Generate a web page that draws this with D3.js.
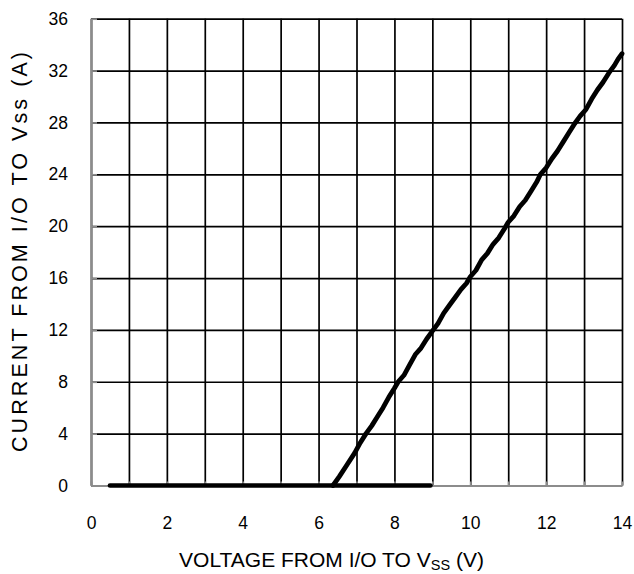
<!DOCTYPE html>
<html>
<head>
<meta charset="utf-8">
<script src="https://cdn.jsdelivr.net/npm/d3@7"></script>
<style>
  html, body { margin: 0; padding: 0; background: #fff; }
  svg { display: block; }
  text { font-family: "Liberation Sans", Arial, Helvetica, sans-serif; fill: #000; }
</style>
</head>
<body>
<svg id="chart" width="634" height="574"></svg>
<script>
// Axis ranges and tick labels
const xTickLabels = [0, 2, 4, 6, 8, 10, 12, 14];
const xGridValues = [0, 1, 2, 3, 4, 5, 6, 7, 8, 9, 10, 11, 12, 13, 14];
const yTickLabels = [0, 4, 8, 12, 16, 20, 24, 28, 32, 36];

// Off-state leakage: current stays at zero up to ~9 V
const offVoltage = [0.5, 8.95];
const offCurrent = [0, 0];

// Clamp conduction: current rises once the I/O exceeds ~6.4 V
const onVoltage = [6.38, 6.55, 6.75, 6.95, 7.10, 7.25, 7.40, 7.55, 7.70, 7.85,
  8.00, 8.10, 8.25, 8.40, 8.55, 8.70, 8.85, 9.00, 9.15, 9.30,
  9.45, 9.60, 9.75, 9.90, 10.00, 10.15, 10.30, 10.45, 10.60, 10.75,
  10.90, 11.00, 11.15, 11.30, 11.45, 11.60, 11.75, 11.85, 12.00, 12.15,
  12.30, 12.45, 12.60, 12.75, 12.90, 13.05, 13.20, 13.35, 13.50, 13.65,
  13.80, 13.90, 14.00];
const onCurrent = [0.0, 0.7, 1.6, 2.5, 3.3, 4.0, 4.6, 5.3, 6.0, 6.8,
  7.5, 8.0, 8.5, 9.3, 10.1, 10.6, 11.3, 11.9, 12.5, 13.3,
  13.9, 14.5, 15.1, 15.6, 16.1, 16.6, 17.4, 17.9, 18.6, 19.1,
  19.8, 20.3, 20.8, 21.5, 22.0, 22.7, 23.4, 24.0, 24.5, 25.2,
  25.8, 26.5, 27.2, 27.9, 28.5, 29.0, 29.8, 30.5, 31.1, 31.8,
  32.4, 32.9, 33.3];

const svg = d3.select("#chart");
const plotLeft = 91, plotRight = 622, plotTop = 18.7, plotBottom = 485.5;

const x = d3.scaleLinear().domain([0, 14]).range([plotLeft, plotRight]);
const y = d3.scaleLinear().domain([0, 36]).range([plotBottom, plotTop]);

// Black grid: vertical lines every volt, horizontal every 4 A
svg.append("g")
  .attr("transform", `translate(0,${plotBottom})`)
  .call(d3.axisBottom(x).tickValues(xGridValues).tickSize(-(plotBottom - plotTop)).tickFormat(""))
  .call(g => g.select(".domain").remove())
  .call(g => g.selectAll(".tick line").attr("stroke", "#000").attr("stroke-width", 1.7));

svg.append("g")
  .attr("transform", `translate(${plotLeft},0)`)
  .call(d3.axisLeft(y).tickValues(yTickLabels).tickSize(-(plotRight - plotLeft)).tickFormat(""))
  .call(g => g.select(".domain").remove())
  .call(g => g.selectAll(".tick line").attr("stroke", "#000").attr("stroke-width", 1.7));

// Grey left and bottom axes with short inward ticks
svg.append("g")
  .attr("transform", `translate(${plotLeft},0)`)
  .call(d3.axisLeft(y).tickValues(yTickLabels).tickSizeInner(-6).tickSizeOuter(0).tickFormat(""))
  .call(g => g.select(".domain").attr("stroke", "#8c8c8c").attr("stroke-width", 2))
  .call(g => g.selectAll(".tick line").attr("stroke", "#8c8c8c").attr("stroke-width", 1.7));

svg.append("g")
  .attr("transform", `translate(0,${plotBottom})`)
  .call(d3.axisBottom(x).tickValues(xGridValues).tickSizeInner(-4).tickSizeOuter(0).tickFormat(""))
  .call(g => g.select(".domain").attr("stroke", "#8c8c8c").attr("stroke-width", 2))
  .call(g => g.selectAll(".tick line").attr("stroke", "#8c8c8c").attr("stroke-width", 1.7));

// Tick labels
svg.append("g")
  .attr("transform", `translate(${plotLeft},0)`)
  .call(d3.axisLeft(y).tickValues(yTickLabels).tickSize(0).tickPadding(23))
  .call(g => g.select(".domain").remove())
  .call(g => g.selectAll("text").attr("font-size", 17.5).attr("font-family", "Liberation Sans, Arial, sans-serif"));

svg.append("g")
  .attr("transform", `translate(0,${plotBottom})`)
  .call(d3.axisBottom(x).tickValues(xTickLabels).tickSize(0).tickPadding(31))
  .call(g => g.select(".domain").remove())
  .call(g => g.selectAll("text").attr("font-size", 17.5).attr("font-family", "Liberation Sans, Arial, sans-serif"));

// Data curves
const line = d3.line().x(d => x(d[0])).y(d => y(d[1]));
const offPts = offVoltage.map((v, i) => [v, offCurrent[i]]);
const onPts = onVoltage.map((v, i) => [v, onCurrent[i]]);

svg.append("path").datum(offPts)
  .attr("d", line).attr("fill", "none").attr("stroke", "#000")
  .attr("stroke-width", 4.6).attr("stroke-linecap", "round");
svg.append("path").datum(onPts)
  .attr("d", line).attr("fill", "none").attr("stroke", "#000")
  .attr("stroke-width", 4.8).attr("stroke-linecap", "round").attr("stroke-linejoin", "round");

// Axis titles
const xTitle = svg.append("text")
  .attr("x", (177 + 486) / 2).attr("y", 567)
  .attr("text-anchor", "middle").attr("font-size", 21);
xTitle.append("tspan").text("VOLTAGE FROM I/O TO V");
xTitle.append("tspan").attr("font-size", 14.5).attr("dy", 3).text("SS");
xTitle.append("tspan").attr("dy", -3).text(" (V)");

svg.append("text")
  .attr("transform", `translate(27,252) rotate(-90)`)
  .attr("text-anchor", "middle").attr("font-size", 21.5)
  .attr("textLength", 400).attr("lengthAdjust", "spacing")
  .text("CURRENT  FROM  I/O TO Vss (A)");
</script>
</body>
</html>
